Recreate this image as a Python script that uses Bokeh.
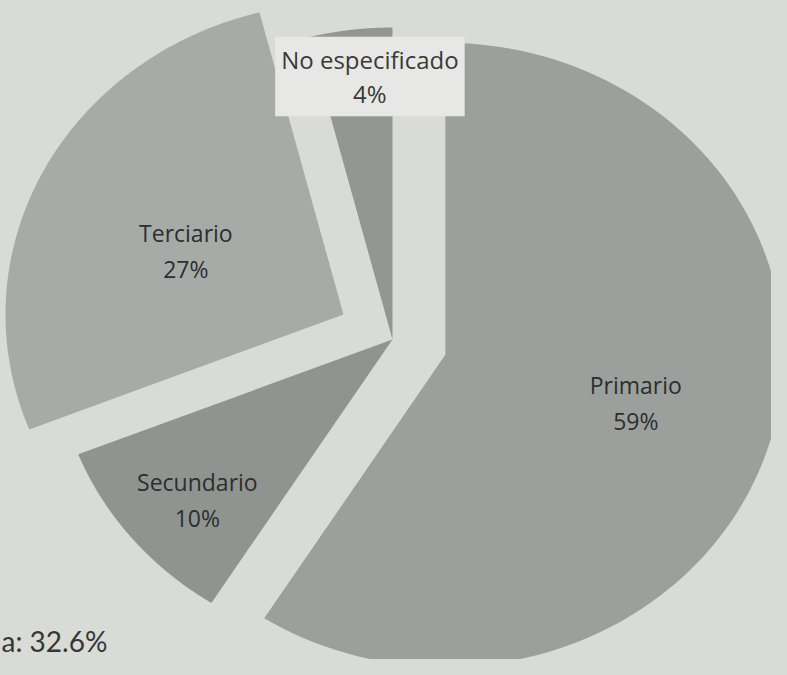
import numpy as np
from bokeh.plotting import figure
from bokeh.models import Range1d, Label, ColumnDataSource
from bokeh.embed import file_html
from bokeh.resources import INLINE

# ---- data ----
categories = ["Primario", "Secundario", "Terciario", "No especificado"]
shares = [59, 10, 27, 4]
pct_labels = ["59%", "10%", "27%", "4%"]
footer_text = "a: 32.6%"

# ---- style / layout ----
colors = ["#9ba09d", "#8f9491", "#a7aba8", "#939794"]
explode = [55, 0, 55, 0]
label_frac = [0.55, 0.78, 0.54, 0.84]
label_off = [(12, 0), (8, -5), (5, -13), (13, 3)]
cx, cy = 400.0, -347.0
rx, ry = 338.0, 312.0
bg = "#d9dbd7"
font = "Open Sans"

W, H = 771, 659
p = figure(width=W, height=H, output_backend="svg", toolbar_location=None,
           x_range=Range1d(8, 8 + W), y_range=Range1d(-8 - H, -8),
           min_border=0)
p.axis.visible = False
p.grid.visible = False
p.outline_line_color = None
p.background_fill_color = bg
p.border_fill_color = bg

total = float(sum(shares))
xs, ys = [], []
label_pos = []
start = np.pi / 2
for i, s in enumerate(shares):
    span = 2 * np.pi * s / total
    a0, a1 = start, start - span
    mid = (a0 + a1) / 2
    ax = cx + explode[i] * np.cos(mid)
    ay = cy + explode[i] * np.sin(mid)
    t = np.linspace(a0, a1, 160)
    px = np.concatenate([[ax], ax + rx * np.cos(t)])
    py = np.concatenate([[ay], ay + ry * np.sin(t)])
    xs.append(list(px))
    ys.append(list(py))
    f = label_frac[i]
    label_pos.append((ax + f * rx * np.cos(mid) + label_off[i][0],
                      ay + f * ry * np.sin(mid) + label_off[i][1]))
    start = a1

src = ColumnDataSource(dict(xs=xs, ys=ys, color=colors, name=categories))
p.patches("xs", "ys", source=src, fill_color="color", line_color=None)

for i, name in enumerate(categories):
    lx, ly = label_pos[i]
    if name == "No especificado":
        p.add_layout(Label(x=lx, y=ly, text=name + "\n" + pct_labels[i],
                           text_align="center", text_baseline="middle",
                           text_font=font, text_font_size="24px",
                           text_color="#3a3a3a", text_line_height=1.05,
                           background_fill_color="#e7e8e5", padding=6))
    else:
        p.add_layout(Label(x=lx, y=ly + 2, text=name,
                           text_align="center", text_baseline="bottom",
                           text_font=font, text_font_size="23px",
                           text_color="#2e2e2e"))
        p.add_layout(Label(x=lx, y=ly - 2, text=pct_labels[i],
                           text_align="center", text_baseline="top",
                           text_font=font, text_font_size="23px",
                           text_color="#2e2e2e"))

p.add_layout(Label(x=9, y=-648, text=footer_text, text_align="left",
                   text_baseline="alphabetic", text_font="Lato",
                   text_font_size="28px", text_color="#363636"))

html = file_html(p, INLINE)
html = html.replace("<head>", "<head><style>html,body{background:%s;}</style>" % bg, 1)
open("out.html", "w").write(html)
